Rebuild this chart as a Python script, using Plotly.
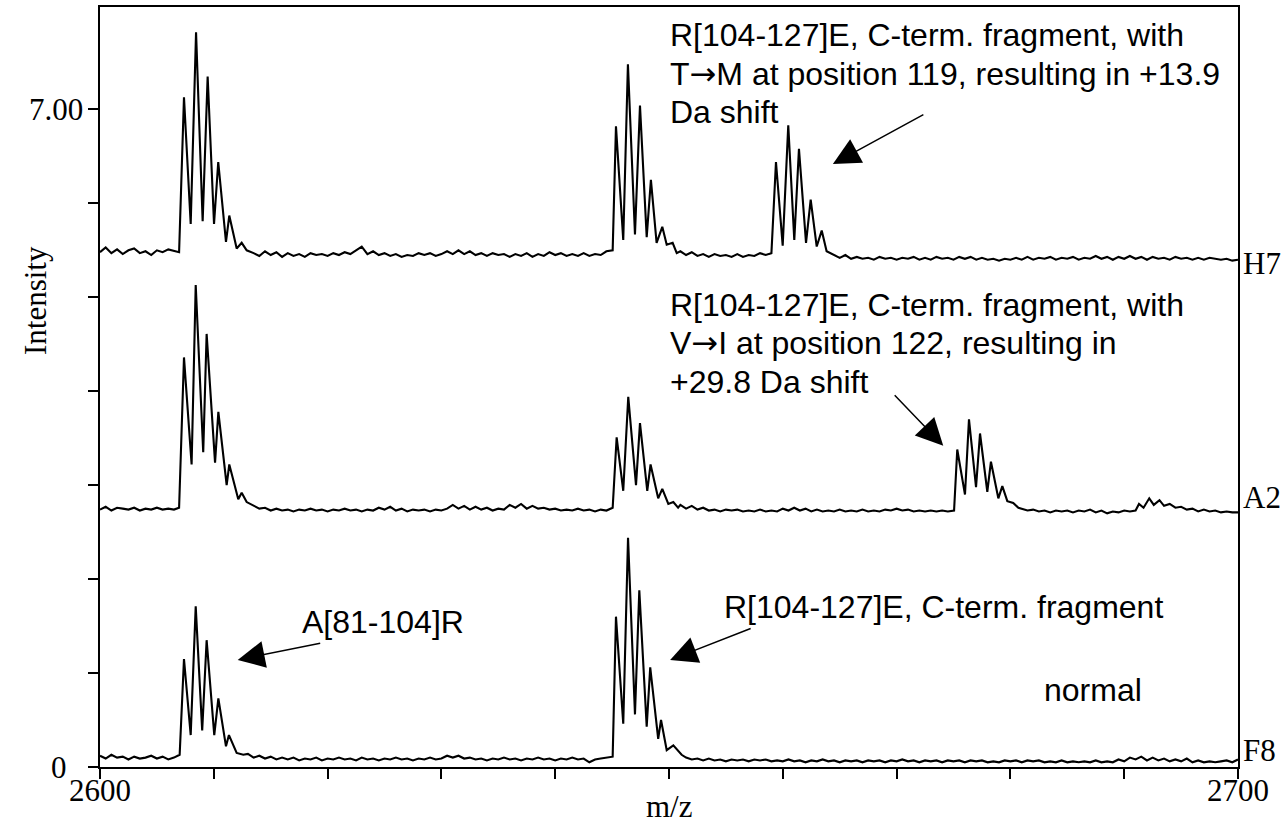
import plotly.graph_objects as go

# ---------------- data (m/z, intensity on the stacked axis) ----------------
H7_POINTS = [
    (2600.0, 5.48), (2600.5, 5.53), (2601.0, 5.47), (2601.5, 5.51), (2602.0, 5.46), (2602.5, 5.50),
    (2603.0, 5.52), (2603.5, 5.47), (2604.0, 5.49), (2604.5, 5.45), (2605.0, 5.50), (2605.5, 5.48),
    (2606.0, 5.51), (2606.5, 5.49),
    (2606.95, 5.48), (2607.38, 7.13), (2607.97, 5.78), (2608.44, 7.82), (2609.02, 5.81), (2609.46, 7.35),
    (2610.02, 5.78), (2610.39, 6.44), (2611.07, 5.59), (2611.36, 5.87), (2612.01, 5.52), (2612.45, 5.58),
    (2612.89, 5.50),
    (2613.5, 5.47), (2614.0, 5.44), (2614.5, 5.49), (2615.0, 5.45), (2615.5, 5.48), (2616.0, 5.43),
    (2616.5, 5.47), (2617.0, 5.44), (2617.5, 5.46), (2618.0, 5.43), (2618.5, 5.47), (2619.0, 5.45),
    (2619.5, 5.46), (2620.0, 5.44), (2620.5, 5.47), (2621.0, 5.45), (2621.5, 5.48), (2622.0, 5.46),
    (2622.5, 5.50), (2623.0, 5.54), (2623.5, 5.46), (2624.0, 5.49), (2624.5, 5.45), (2625.0, 5.47),
    (2625.5, 5.44), (2626.0, 5.46), (2626.5, 5.43), (2627.0, 5.45), (2627.5, 5.44), (2628.0, 5.47),
    (2628.5, 5.45), (2629.0, 5.47), (2629.5, 5.44), (2630.0, 5.46), (2630.5, 5.49), (2631.0, 5.46),
    (2631.5, 5.50), (2632.0, 5.46), (2632.5, 5.49), (2633.0, 5.45), (2633.5, 5.47), (2634.0, 5.44),
    (2634.5, 5.47), (2635.0, 5.45), (2635.5, 5.46), (2636.0, 5.43), (2636.5, 5.46), (2637.0, 5.44),
    (2637.5, 5.47), (2638.0, 5.43), (2638.5, 5.46), (2639.0, 5.44), (2639.5, 5.48), (2640.0, 5.45),
    (2640.5, 5.47), (2641.0, 5.44), (2641.5, 5.46), (2642.0, 5.44), (2642.5, 5.47), (2643.0, 5.44),
    (2643.5, 5.46), (2644.0, 5.45), (2644.5, 5.49),
    (2645.05, 5.50), (2645.34, 6.82), (2645.98, 5.61), (2646.39, 7.48), (2647.01, 5.67), (2647.45, 7.04),
    (2648.04, 5.64), (2648.41, 6.25), (2648.91, 5.58), (2649.41, 5.75), (2649.80, 5.56), (2650.32, 5.58),
    (2650.68, 5.47),
    (2651.0, 5.49), (2651.5, 5.45), (2652.0, 5.48), (2652.5, 5.44), (2653.0, 5.46), (2653.5, 5.43),
    (2654.0, 5.46), (2654.5, 5.44), (2655.0, 5.45), (2655.5, 5.43), (2656.0, 5.46), (2656.5, 5.43),
    (2657.0, 5.45), (2657.5, 5.44), (2658.0, 5.47), (2658.5, 5.45),
    (2659.00, 5.47), (2659.40, 6.44), (2659.99, 5.55), (2660.48, 6.83), (2661.01, 5.61), (2661.42, 6.58),
    (2662.04, 5.58), (2662.45, 6.04), (2662.98, 5.54), (2663.42, 5.71), (2663.85, 5.49), (2664.20, 5.47),
    (2664.5, 5.45), (2665.0, 5.42), (2665.5, 5.45), (2666.0, 5.41), (2666.5, 5.43), (2667.0, 5.41),
    (2667.5, 5.42), (2668.0, 5.40), (2668.5, 5.43), (2669.0, 5.41), (2669.5, 5.42), (2670.0, 5.40),
    (2670.5, 5.42), (2671.0, 5.41), (2671.5, 5.43), (2672.0, 5.40), (2672.5, 5.42), (2673.0, 5.40),
    (2673.5, 5.43), (2674.0, 5.41), (2674.5, 5.42), (2675.0, 5.40), (2675.5, 5.43), (2676.0, 5.41),
    (2676.5, 5.43), (2677.0, 5.40), (2677.5, 5.42), (2678.0, 5.40), (2678.5, 5.41), (2679.0, 5.39),
    (2679.5, 5.41), (2680.0, 5.40), (2680.5, 5.42), (2681.0, 5.40), (2681.5, 5.43), (2682.0, 5.40),
    (2682.5, 5.42), (2683.0, 5.41), (2683.5, 5.43), (2684.0, 5.40), (2684.5, 5.42), (2685.0, 5.41),
    (2685.5, 5.43), (2686.0, 5.40), (2686.5, 5.42), (2687.0, 5.41), (2687.5, 5.44), (2688.0, 5.41),
    (2688.5, 5.43), (2689.0, 5.40), (2689.5, 5.43), (2690.0, 5.41), (2690.5, 5.44), (2691.0, 5.41),
    (2691.5, 5.43), (2692.0, 5.40), (2692.5, 5.43), (2693.0, 5.41), (2693.5, 5.42), (2694.0, 5.40),
    (2694.5, 5.43), (2695.0, 5.41), (2695.5, 5.42), (2696.0, 5.40), (2696.5, 5.42), (2697.0, 5.40),
    (2697.5, 5.42), (2698.0, 5.41), (2698.5, 5.40), (2699.0, 5.41), (2699.5, 5.39), (2700.0, 5.40),
]

A2_POINTS = [
    (2600.0, 2.74), (2600.5, 2.77), (2601.0, 2.73), (2601.5, 2.76), (2602.0, 2.75), (2602.5, 2.74),
    (2603.0, 2.76), (2603.5, 2.73), (2604.0, 2.75), (2604.5, 2.74), (2605.0, 2.76), (2605.5, 2.74),
    (2606.0, 2.75), (2606.5, 2.74),
    (2606.95, 2.76), (2607.38, 4.36), (2608.05, 3.22), (2608.41, 5.13), (2609.07, 3.35), (2609.37, 4.61),
    (2610.11, 3.24), (2610.40, 3.78), (2611.13, 3.00), (2611.36, 3.22), (2612.15, 2.85), (2612.45, 2.92),
    (2612.89, 2.82),
    (2613.5, 2.78), (2614.0, 2.75), (2614.5, 2.76), (2615.0, 2.73), (2615.5, 2.75), (2616.0, 2.73),
    (2616.5, 2.74), (2617.0, 2.72), (2617.5, 2.74), (2618.0, 2.73), (2618.5, 2.75), (2619.0, 2.73),
    (2619.5, 2.74), (2620.0, 2.72), (2620.5, 2.74), (2621.0, 2.73), (2621.5, 2.75), (2622.0, 2.73),
    (2622.5, 2.74), (2623.0, 2.72), (2623.5, 2.74), (2624.0, 2.73), (2624.5, 2.76), (2625.0, 2.74),
    (2625.5, 2.77), (2626.0, 2.73), (2626.5, 2.75), (2627.0, 2.72), (2627.5, 2.74), (2628.0, 2.73),
    (2628.5, 2.74), (2629.0, 2.72), (2629.5, 2.74), (2630.0, 2.73), (2630.5, 2.75), (2631.0, 2.79),
    (2631.5, 2.75), (2632.0, 2.78), (2632.5, 2.74), (2633.0, 2.77), (2633.5, 2.74), (2634.0, 2.76),
    (2634.5, 2.73), (2635.0, 2.75), (2635.5, 2.74), (2636.0, 2.79), (2636.5, 2.76), (2637.0, 2.80),
    (2637.5, 2.75), (2638.0, 2.78), (2638.5, 2.75), (2639.0, 2.76), (2639.5, 2.74), (2640.0, 2.75),
    (2640.5, 2.73), (2641.0, 2.74), (2641.5, 2.73), (2642.0, 2.75), (2642.5, 2.73), (2643.0, 2.74),
    (2643.5, 2.72), (2644.0, 2.74), (2644.5, 2.73),
    (2645.05, 2.76), (2645.40, 3.51), (2645.98, 2.94), (2646.42, 3.94), (2647.10, 3.00), (2647.45, 3.66),
    (2648.09, 2.94), (2648.38, 3.22), (2649.05, 2.86), (2649.41, 2.96), (2649.94, 2.80), (2650.38, 2.82),
    (2650.80, 2.76),
    (2651.0, 2.79), (2651.5, 2.75), (2652.0, 2.78), (2652.5, 2.74), (2653.0, 2.76), (2653.5, 2.73),
    (2654.0, 2.74), (2654.5, 2.72), (2655.0, 2.74), (2655.5, 2.73), (2656.0, 2.74), (2656.5, 2.72),
    (2657.0, 2.73), (2657.5, 2.72), (2658.0, 2.74), (2658.5, 2.72), (2659.0, 2.73), (2659.5, 2.72),
    (2660.0, 2.75), (2660.5, 2.73), (2661.0, 2.76), (2661.5, 2.73), (2662.0, 2.75), (2662.5, 2.72),
    (2663.0, 2.74), (2663.5, 2.72), (2664.0, 2.73), (2664.5, 2.72), (2665.0, 2.74), (2665.5, 2.72),
    (2666.0, 2.73), (2666.5, 2.72), (2667.0, 2.74), (2667.5, 2.72), (2668.0, 2.73), (2668.5, 2.72),
    (2669.0, 2.74), (2669.5, 2.73), (2670.0, 2.75), (2670.5, 2.73), (2671.0, 2.74), (2671.5, 2.72),
    (2672.0, 2.73), (2672.5, 2.72), (2673.0, 2.73), (2673.5, 2.72), (2674.0, 2.73), (2674.5, 2.72),
    (2675.05, 2.73), (2675.33, 3.38), (2676.01, 2.90), (2676.36, 3.70), (2676.98, 2.98), (2677.33, 3.55),
    (2677.97, 2.93), (2678.29, 3.25), (2678.94, 2.86), (2679.29, 2.99), (2679.73, 2.83), (2680.25, 2.81),
    (2680.70, 2.76),
    (2681.0, 2.75), (2681.5, 2.73), (2682.0, 2.74), (2682.5, 2.72), (2683.0, 2.73), (2683.5, 2.71),
    (2684.0, 2.73), (2684.5, 2.72), (2685.0, 2.73), (2685.5, 2.71), (2686.0, 2.73), (2686.5, 2.72),
    (2687.0, 2.74), (2687.5, 2.71), (2688.0, 2.73), (2688.5, 2.70), (2689.0, 2.72), (2689.5, 2.71),
    (2690.0, 2.73), (2690.5, 2.72), (2691.0, 2.73), (2691.3, 2.80), (2691.7, 2.76), (2692.2, 2.86),
    (2692.6, 2.79), (2693.1, 2.84), (2693.5, 2.78), (2694.0, 2.80), (2694.5, 2.76), (2695.0, 2.77),
    (2695.5, 2.74), (2696.0, 2.75), (2696.5, 2.72), (2697.0, 2.74), (2697.5, 2.72), (2698.0, 2.73),
    (2698.5, 2.71), (2699.0, 2.72), (2699.5, 2.71), (2700.0, 2.71),
]

F8_POINTS = [
    (2600.0, 0.12), (2600.5, 0.09), (2601.0, 0.13), (2601.5, 0.10), (2602.0, 0.11), (2602.5, 0.08),
    (2603.0, 0.11), (2603.5, 0.09), (2604.0, 0.10), (2604.5, 0.12), (2605.0, 0.09), (2605.5, 0.11),
    (2606.0, 0.08), (2606.5, 0.10),
    (2607.0, 0.13), (2607.38, 1.15), (2607.97, 0.34), (2608.41, 1.71), (2608.98, 0.39), (2609.37, 1.35),
    (2610.04, 0.34), (2610.40, 0.73), (2611.07, 0.22), (2611.33, 0.34), (2612.01, 0.15), (2612.59, 0.13),
    (2613.0, 0.14),
    (2613.5, 0.10), (2614.0, 0.12), (2614.5, 0.09), (2615.0, 0.11), (2615.5, 0.08), (2616.0, 0.10),
    (2616.5, 0.08), (2617.0, 0.10), (2617.5, 0.07), (2618.0, 0.09), (2618.5, 0.08), (2619.0, 0.10),
    (2619.5, 0.07), (2620.0, 0.09), (2620.5, 0.08), (2621.0, 0.10), (2621.5, 0.08), (2622.0, 0.09),
    (2622.5, 0.07), (2623.0, 0.10), (2623.5, 0.08), (2624.0, 0.09), (2624.5, 0.07), (2625.0, 0.09),
    (2625.5, 0.08), (2626.0, 0.10), (2626.5, 0.08), (2627.0, 0.09), (2627.5, 0.07), (2628.0, 0.09),
    (2628.5, 0.08), (2629.0, 0.10), (2629.5, 0.08), (2630.0, 0.09), (2630.5, 0.12), (2631.0, 0.10),
    (2631.5, 0.12), (2632.0, 0.09), (2632.5, 0.10), (2633.0, 0.08), (2633.5, 0.09), (2634.0, 0.07),
    (2634.5, 0.09), (2635.0, 0.08), (2635.5, 0.10), (2636.0, 0.08), (2636.5, 0.09), (2637.0, 0.07),
    (2637.5, 0.09), (2638.0, 0.08), (2638.5, 0.10), (2639.0, 0.08), (2639.5, 0.09), (2640.0, 0.07),
    (2640.5, 0.09), (2641.0, 0.08), (2641.5, 0.10), (2642.0, 0.08), (2642.5, 0.09), (2643.0, 0.05),
    (2643.5, 0.08), (2644.0, 0.09), (2644.5, 0.10),
    (2645.05, 0.11), (2645.34, 1.60), (2645.98, 0.46), (2646.40, 2.44), (2647.01, 0.56), (2647.39, 1.88),
    (2648.04, 0.43), (2648.35, 1.06), (2649.05, 0.30), (2649.30, 0.50), (2649.80, 0.18), (2650.38, 0.23),
    (2651.11, 0.13),
    (2651.5, 0.10), (2652.0, 0.08), (2652.5, 0.09), (2653.0, 0.07), (2653.5, 0.09), (2654.0, 0.07),
    (2654.5, 0.08), (2655.0, 0.06), (2655.5, 0.08), (2656.0, 0.07), (2656.5, 0.08), (2657.0, 0.06),
    (2657.5, 0.08), (2658.0, 0.07), (2658.5, 0.08), (2659.0, 0.06), (2659.5, 0.07), (2660.0, 0.06),
    (2660.5, 0.08), (2661.0, 0.06), (2661.5, 0.07), (2662.0, 0.05), (2662.5, 0.07), (2663.0, 0.06),
    (2663.5, 0.08), (2664.0, 0.06), (2664.5, 0.07), (2665.0, 0.05), (2665.5, 0.07), (2666.0, 0.06),
    (2666.5, 0.07), (2667.0, 0.05), (2667.5, 0.07), (2668.0, 0.06), (2668.5, 0.07), (2669.0, 0.05),
    (2669.5, 0.07), (2670.0, 0.06), (2670.5, 0.08), (2671.0, 0.06), (2671.5, 0.07), (2672.0, 0.05),
    (2672.5, 0.07), (2673.0, 0.06), (2673.5, 0.07), (2674.0, 0.05), (2674.5, 0.07), (2675.0, 0.06),
    (2675.5, 0.07), (2676.0, 0.05), (2676.5, 0.07), (2677.0, 0.06), (2677.5, 0.07), (2678.0, 0.05),
    (2678.5, 0.06), (2679.0, 0.05), (2679.5, 0.07), (2680.0, 0.06), (2680.5, 0.07), (2681.0, 0.05),
    (2681.5, 0.07), (2682.0, 0.06), (2682.5, 0.07), (2683.0, 0.05), (2683.5, 0.06), (2684.0, 0.05),
    (2684.5, 0.07), (2685.0, 0.05), (2685.5, 0.06), (2686.0, 0.05), (2686.5, 0.06), (2687.0, 0.05),
    (2687.5, 0.07), (2688.0, 0.05), (2688.5, 0.06), (2689.0, 0.05), (2689.5, 0.08), (2690.0, 0.06),
    (2690.5, 0.10), (2691.0, 0.08), (2691.5, 0.11), (2692.0, 0.07), (2692.5, 0.10), (2693.0, 0.07),
    (2693.5, 0.09), (2694.0, 0.06), (2694.5, 0.08), (2695.0, 0.06), (2695.5, 0.09), (2696.0, 0.05),
    (2696.5, 0.07), (2697.0, 0.05), (2697.5, 0.06), (2698.0, 0.05), (2698.5, 0.06), (2699.0, 0.07),
    (2699.5, 0.05), (2700.0, 0.08),
]

SAMPLE_NAMES = ["H7", "A2", "F8"]
SAMPLE_LABEL_Y = [5.36, 2.87, 0.18]

X_TICKS = [2600, 2610, 2620, 2630, 2640, 2650, 2660, 2670, 2680, 2690, 2700]
X_LABELS = [(2600, "2600"), (2700, "2700")]
Y_TICKS = [0, 1, 2, 3, 4, 5, 6, 7]
Y_LABELS = [(0, "0", -31), (7, "7.00", -15)]

ARROW_CHAR = '<span style="font-family:DejaVu Sans">\u2192</span>'
# annotation lines: text, x, y (data)
TEXT_LINES = [
    ("R[104-127]E, C-term. fragment, with", 2649.9, 7.79),
    ("T" + ARROW_CHAR + "M at position 119, resulting in +13.9", 2649.9, 7.38),
    ("Da shift", 2649.9, 6.97),
    ("R[104-127]E, C-term. fragment, with", 2649.9, 4.92),
    ("V" + ARROW_CHAR + "I at position 122, resulting in", 2649.9, 4.51),
    ("+29.8 Da shift", 2649.9, 4.10),
    ("A[81-104]R", 2617.6, 1.54),
    ("R[104-127]E, C-term. fragment", 2654.7, 1.70),
    ("normal", 2682.8, 0.82),
]
# arrows: tip x, tip y (data), tail offset in px
ARROWS = [
    (2664.4, 6.42, 92, -50),
    (2674.1, 3.42, -50, -52),
    (2612.1, 1.14, 84, -17),
    (2650.1, 1.14, 82, -32),
]

SERIF = "Times New Roman, Liberation Serif, serif"
SANS = "Arial, Liberation Sans, sans-serif"

fig = go.Figure()
for name, pts in zip(SAMPLE_NAMES, [H7_POINTS, A2_POINTS, F8_POINTS]):
    fig.add_trace(go.Scatter(
        x=[p[0] for p in pts], y=[p[1] for p in pts], mode="lines", name=name,
        line=dict(color="black", width=2.1), showlegend=False, hoverinfo="skip",
    ))

annotations = []
for text, x, y in TEXT_LINES:
    annotations.append(dict(x=x, y=y, xref="x", yref="y", text=text, showarrow=False,
                            xanchor="left", yanchor="middle", align="left",
                            font=dict(family=SANS, size=32, color="black")))
for tx, ty, ax, ay in ARROWS:
    annotations.append(dict(x=tx, y=ty, xref="x", yref="y", text="", showarrow=True,
                            ax=ax, ay=ay, arrowhead=2, arrowsize=3.6, arrowwidth=1.5,
                            arrowcolor="black", standoff=0))
for name, ly in zip(SAMPLE_NAMES, SAMPLE_LABEL_Y):
    annotations.append(dict(x=1, y=ly, xref="paper", yref="y", text=name, showarrow=False,
                            xanchor="left", yanchor="middle", xshift=3,
                            font=dict(family=SERIF, size=31, color="black")))
for xv, lab in X_LABELS:
    annotations.append(dict(x=xv, y=0, xref="x", yref="paper", text=lab, showarrow=False,
                            xanchor="center", yanchor="middle", yshift=-23,
                            font=dict(family=SERIF, size=31, color="black")))
for yv, lab, xs in Y_LABELS:
    annotations.append(dict(x=0, y=yv, xref="paper", yref="y", text=lab, showarrow=False,
                            xanchor="right", yanchor="middle", xshift=xs,
                            font=dict(family=SERIF, size=31, color="black")))
annotations.append(dict(x=0, y=4.96, xref="paper", yref="y", text="Intensity", showarrow=False,
                        textangle=-90, xanchor="center", yanchor="middle", xshift=-65,
                        font=dict(family=SERIF, size=31, color="black")))
annotations.append(dict(x=2650, y=0, xref="x", yref="paper", text="m/z", showarrow=False,
                        xanchor="center", yanchor="middle", yshift=-39,
                        font=dict(family=SERIF, size=31, color="black")))

fig.update_layout(
    width=1287, height=828,
    margin=dict(l=100, r=49, t=5, b=61),
    paper_bgcolor="white", plot_bgcolor="white",
    annotations=annotations,
    xaxis=dict(range=[2600, 2700], tickvals=X_TICKS, showticklabels=False,
               ticks="outside", ticklen=10, tickwidth=1.5, tickcolor="black",
               showline=True, linecolor="black", linewidth=1.5, mirror=True,
               showgrid=False, zeroline=False),
    yaxis=dict(range=[0, 8.09], tickvals=Y_TICKS, showticklabels=False,
               ticks="outside", ticklen=10, tickwidth=1.5, tickcolor="black",
               showline=True, linecolor="black", linewidth=1.5, mirror=True,
               showgrid=False, zeroline=False),
)

fig.write_html("out.html", config={"displayModeBar": False},
               post_script="document.body.style.margin='0';")
